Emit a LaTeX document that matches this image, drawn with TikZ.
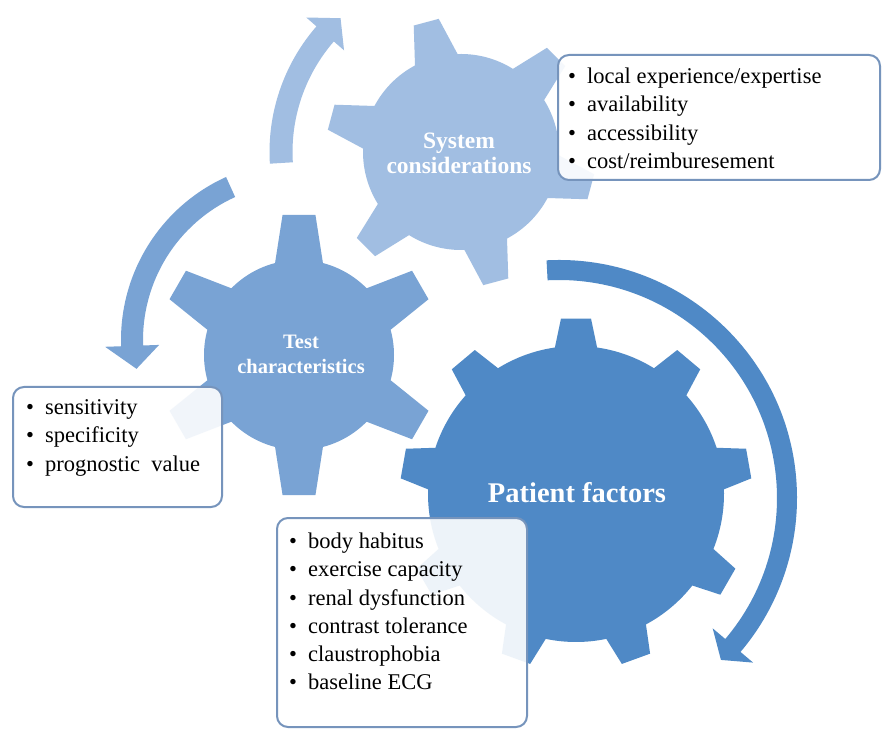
\documentclass[tikz,border=0pt]{standalone}
\usepackage{fontspec}
\setmainfont{Liberation Serif}
\usetikzlibrary{calc}
\definecolor{sysblue}{RGB}{161,190,226}
\definecolor{testblue}{RGB}{121,163,212}
\definecolor{patblue}{RGB}{79,137,198}
\definecolor{boxline}{RGB}{118,148,188}
\newcommand{\bul}{\makebox[19pt][l]{•}}
\newcommand{\gearshape}[8]{%
  \begin{scope}[shift={#1}]
  \pgfmathsetmacro{\gstep}{360/#2}
  \pgfmathtruncatemacro{\glast}{#2-1}
  \fill[#8] ({#3-#6}:#4) \foreach \k [evaluate=\k as \t using #3+\k*\gstep] in {0,...,\glast}{ -- ({\t-#7}:#5) -- ({\t+#7}:#5) -- ({\t+#6}:#4) arc[start angle={\t+#6}, end angle={\t+\gstep-#6}, radius=#4]} -- cycle;
  \end{scope}}
\begin{document}
\begin{tikzpicture}[x=1pt,y=1pt,
  gearlabel/.style={text=white, align=center, inner sep=0pt},
  listtext/.style={font=\fontsize{22.5}{28.3}\selectfont, align=left, anchor=north west, inner sep=0pt, text=black},
  listbox/.style={draw=boxline, line width=2pt, fill=white, fill opacity=0.9, rounded corners=11pt}]
\useasboundingbox[fill=white] (0,0) rectangle (882,731);

% arrows
\begin{scope}[shift={(461,579)}]
\fill[sysblue] (183.5:191.5) arc[start angle=183.5, end angle=139, radius=191.5] -- (139:205) -- (132:180) -- (139:155) -- (139:168.5) arc[start angle=139, end angle=183.5, radius=168.5] -- cycle;
\end{scope}
\begin{scope}[shift={(300,391)}]
\fill[testblue] (114.4:179) arc[start angle=114.4, end angle=182, radius=179] -- (182:195) -- (190:166) -- (182:141) -- (182:157) arc[start angle=182, end angle=114.4, radius=157] -- cycle;
\end{scope}
\begin{scope}[shift={(559,233)}]
\fill[patblue] (93:238) arc[start angle=93, end angle=-40.3, radius=238] -- (-40.3:254.5) -- (-45:229) -- (-40.3:201.5) -- (-40.3:218) arc[start angle=-40.3, end angle=93, radius=218] -- cycle;
\end{scope}

% gears
\gearshape{(461,579)}{6}{45}{98}{135}{13}{5.5}{sysblue}
\gearshape{(299,376)}{6}{30}{95}{141}{14.6}{6.7}{testblue}
\gearshape{(576,237)}{9}{90}{148}{176}{8.2}{4.9}{patblue}

\node[gearlabel, font=\fontsize{23.5}{25}\selectfont\bfseries] (syslab) at (459,578) {System\\considerations};
\node[gearlabel, font=\fontsize{20.5}{25}\selectfont\bfseries] (testlab) at (301,377) {Test\\characteristics};
\node[gearlabel, font=\fontsize{28.5}{30}\selectfont\bfseries] (patlab) at (577,238) {Patient factors};

% boxes
\draw[listbox] (558,676) rectangle (880,551);
\draw[listbox] (13,344) rectangle (222,224);
\draw[listbox] (277,213) rectangle (527,4);

\node[listtext] (syslist) at (568,663.4) {\bul local experience/expertise\\\bul availability\\\bul accessibility\\\bul cost/reimburesement};
\node[listtext] (testlist) at (26,331.4) {\bul sensitivity\\\bul specificity\\\bul prognostic\ \ value};
\node[listtext] (patlist) at (289,198.4) {\bul body habitus\\\bul exercise capacity\\\bul renal dysfunction\\\bul contrast tolerance\\\bul claustrophobia\\\bul baseline ECG};
\end{tikzpicture}
\end{document}
